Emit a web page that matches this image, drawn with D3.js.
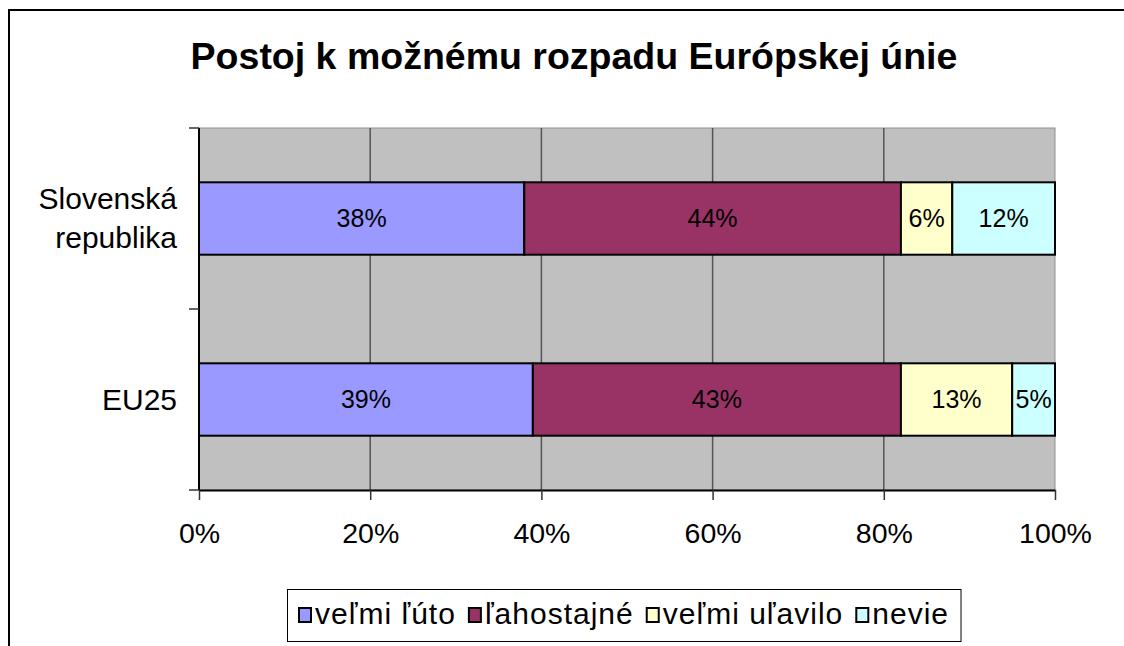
<!DOCTYPE html>
<html>
<head>
<meta charset="utf-8">
<script src="https://cdn.jsdelivr.net/npm/d3@7"></script>
<style>
  body { margin: 0; background: #fff; }
  text { font-family: "Liberation Sans", Arial, sans-serif; }
</style>
</head>
<body>
<div id="chart"></div>
<script>
// data
const categories = ['Slovenská republika', 'EU25'];
const seriesNames = ['veľmi ľúto', 'ľahostajné', 'veľmi uľavilo', 'nevie'];
const velmiLuto = [38, 39];
const lahostajne = [44, 43];
const velmiUlavilo = [6, 13];
const nevie = [12, 5];
const xTicks = [0, 20, 40, 60, 80, 100];

const colors = ['#9999FF', '#993366', '#FFFFCC', '#CCFFFF'];

// table for d3.stack
const rows = categories.map(function(c, i) {
    return {
        category: c,
        'veľmi ľúto': velmiLuto[i],
        'ľahostajné': lahostajne[i],
        'veľmi uľavilo': velmiUlavilo[i],
        'nevie': nevie[i]
    };
});

var width = 1124,
    height = 646;
var plot = {left: 199, right: 1055, top: 128, bottom: 490};

var svg = d3.select('#chart')
    .append('svg')
    .attr('width', width)
    .attr('height', height);

// outer chart border (runs off to the right and bottom)
svg.append('rect')
    .attr('x', 9)
    .attr('y', 10)
    .attr('width', 1300)
    .attr('height', 800)
    .attr('fill', '#fff')
    .attr('stroke', '#000')
    .attr('stroke-width', 2);

// title
svg.append('text')
    .attr('x', 574)
    .attr('y', 69)
    .attr('text-anchor', 'middle')
    .style('font-size', '37.5px')
    .style('font-weight', 'bold')
    .text('Postoj k možnému rozpadu Európskej únie');

var x = d3.scaleLinear()
    .domain([0, 100])
    .range([plot.left, plot.right]);

var y = d3.scaleBand()
    .domain(categories)
    .range([plot.top, plot.bottom])
    .padding(0);

// plot area
svg.append('rect')
    .attr('x', plot.left)
    .attr('y', plot.top)
    .attr('width', plot.right - plot.left)
    .attr('height', plot.bottom - plot.top)
    .attr('fill', '#C0C0C0')
    .attr('stroke', '#909090')
    .attr('stroke-width', 1);

// vertical gridlines
svg.append('g')
    .selectAll('line')
    .data(xTicks.slice(1, -1))
    .enter()
    .append('line')
    .attr('x1', function(d) { return x(d); })
    .attr('x2', function(d) { return x(d); })
    .attr('y1', plot.top)
    .attr('y2', plot.bottom)
    .attr('stroke', '#555')
    .attr('stroke-width', 1.5);

// stacked bars
var stack = d3.stack().keys(seriesNames);
var stacked = stack(rows);
var barH = y.bandwidth() * 0.4;

var layers = svg.append('g')
    .selectAll('g')
    .data(stacked)
    .enter()
    .append('g')
    .attr('fill', function(d, i) { return colors[i]; });

layers.selectAll('rect')
    .data(function(d) { return d; })
    .enter()
    .append('rect')
    .attr('x', function(d) { return x(d[0]); })
    .attr('width', function(d) { return x(d[1]) - x(d[0]); })
    .attr('y', function(d) { return y(d.data.category) + (y.bandwidth() - barH) / 2; })
    .attr('height', barH)
    .attr('stroke', '#000')
    .attr('stroke-width', 2);

// value labels
layers.selectAll('text')
    .data(function(d) { return d; })
    .enter()
    .append('text')
    .attr('x', function(d) { return (x(d[0]) + x(d[1])) / 2; })
    .attr('y', function(d) { return y(d.data.category) + y.bandwidth() / 2 + 8.5; })
    .attr('text-anchor', 'middle')
    .attr('fill', '#000')
    .style('font-size', '25px')
    .text(function(d) { return (d[1] - d[0]) + '%'; });

// x axis
var xAxis = svg.append('g')
    .attr('transform', 'translate(0,' + plot.bottom + ')')
    .call(d3.axisBottom(x)
        .tickValues(xTicks)
        .tickSize(10)
        .tickSizeOuter(0)
        .tickFormat(function(d) { return d + '%'; }));
xAxis.select('.domain').attr('stroke', '#000').attr('stroke-width', 2);
xAxis.selectAll('.tick line').attr('stroke', '#333').attr('stroke-width', 1.5);
xAxis.selectAll('.tick text')
    .attr('y', 53)
    .attr('dy', 0)
    .attr('fill', '#000')
    .style('font-family', '"Liberation Sans", Arial, sans-serif')
    .style('font-size', '28.5px');

// y axis: line plus ticks at category boundaries
svg.append('line')
    .attr('x1', plot.left)
    .attr('x2', plot.left)
    .attr('y1', plot.top)
    .attr('y2', plot.bottom)
    .attr('stroke', '#000')
    .attr('stroke-width', 2);

var yBounds = categories.map(function(c) { return y(c); }).concat([plot.bottom]);
svg.append('g')
    .selectAll('line')
    .data(yBounds)
    .enter()
    .append('line')
    .attr('x1', plot.left - 10)
    .attr('x2', plot.left)
    .attr('y1', function(d) { return d; })
    .attr('y2', function(d) { return d; })
    .attr('stroke', '#333')
    .attr('stroke-width', 1.5);

// category labels, split on the space for the long one
var catLabels = svg.append('g')
    .selectAll('text')
    .data(categories)
    .enter()
    .append('text')
    .attr('text-anchor', 'end')
    .style('font-size', '30px');

catLabels.each(function(c) {
    var words = c.split(' ');
    var mid = y(c) + y.bandwidth() / 2;
    var lineH = 39;
    var first = mid + 10 - (words.length - 1) * lineH / 2;
    var t = d3.select(this);
    words.forEach(function(w, i) {
        t.append('tspan')
            .attr('x', 177)
            .attr('y', first + i * lineH)
            .text(w);
    });
});

// legend
var legend = svg.append('g');
var legendBox = legend.append('rect')
    .attr('x', 287.5)
    .attr('y', 589.5)
    .attr('height', 52)
    .attr('fill', '#fff')
    .attr('stroke', '#000')
    .attr('stroke-width', 1);

var lx = 299;
seriesNames.forEach(function(name, i) {
    legend.append('rect')
        .attr('x', lx)
        .attr('y', 608)
        .attr('width', 12)
        .attr('height', 14)
        .attr('fill', colors[i])
        .attr('stroke', '#000')
        .attr('stroke-width', 2);
    var t = legend.append('text')
        .attr('x', lx + 16)
        .attr('y', 624)
        .style('font-size', '30px')
        .style('letter-spacing', '1px')
        .text(name);
    lx += 16 + t.node().getComputedTextLength() + 13;
});
legendBox.attr('width', lx - 287.5 - 1);
</script>
</body>
</html>
